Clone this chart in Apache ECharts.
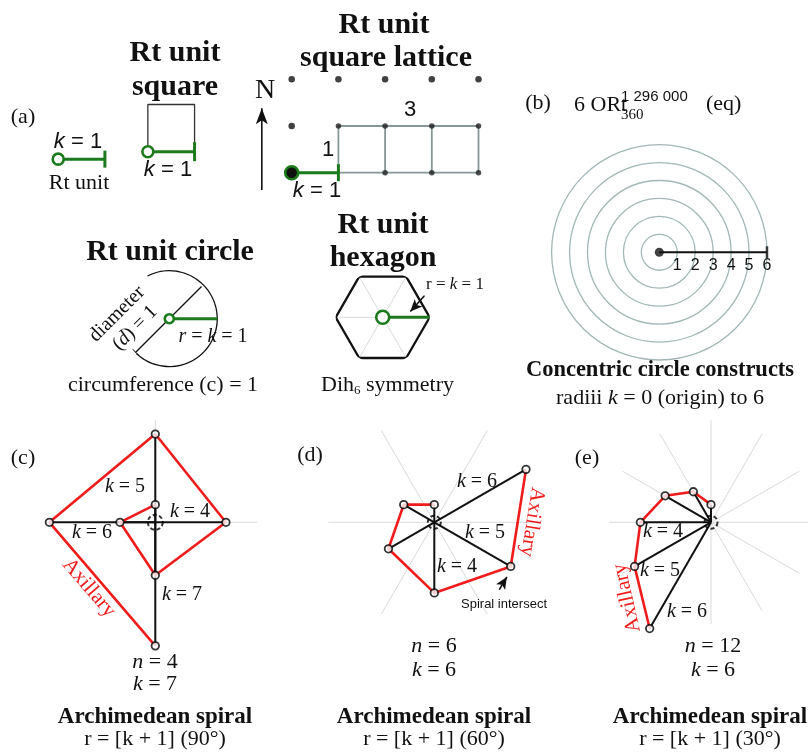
<!DOCTYPE html>
<html>
<head>
<meta charset="utf-8">
<script src="https://cdn.jsdelivr.net/npm/echarts@6/dist/echarts.min.js"></script>
<style>html,body{margin:0;background:#fff}#chart{width:808px;height:755px}</style>
</head>
<body>
<div id="chart"></div>
<script>
const SERIF = 'Liberation Serif', SANS = 'Liberation Sans';
const GREEN = '#1b7a1b', RED = '#f01c1c', INK = '#111', LATTICE = '#879797', RING = '#a3b7b7', SPOKE = '#dadada';

// (a) Rt unit pieces, measured in Rt units
const rtUnit = [[0, 0.29], [1, 0.29]];
const unitSquare = [[1.92, 0.45], [1.92, 1.46], [2.92, 1.46], [2.92, 0.45]];
const squareUnit = [[1.92, 0.45], [2.92, 0.45]];
const northArrow = [[4.36, -0.37], [4.36, 1.38]];
const latticeUnit = [[5, 0], [6, 0]];
const latticeRows = [0, 1];
const latticeCols = [6, 7, 8, 9];
const latticeFree = [[5, 2], [6, 2], [7, 2], [8, 2], [9, 2], [5, 1]];
const latticeNodes = [[6, 1], [7, 1], [8, 1], [9, 1], [7, 0], [8, 0], [9, 0]];

// unit circle: [radius, angle]
const circleArc = [250, 110];          // drawn part, open part (deg)
const circleDiameter = [[0.95, 45], [0.99, 225]];
const diameterTick = [[1.0, 219.5], [1.0, 230.5]];
const circleRadius = [[0, 0], [1, 0]];

// unit hexagon
const hexagon = [[1, 0], [1, 60], [1, 120], [1, 180], [1, 240], [1, 300], [1, 360]];
const hexRadius = [[0, 0], [1, 0]];
const hexPointer = [[1.066, 28.6], [0.6, 12]];

// (b) concentric circles
const ringMax = 6;
const ringRay = [[0, 0], [6, 0]];

// spirals: radius k and angle per step
const spiralC_r = [1, 2, 3, 4, 5, 6, 7];
const spiralC_a = [90, 180, 270, 0, 90, 180, 270];
const spiralD_r = [1, 2, 3, 4, 5, 6];
const spiralD_a = [90, 150, 210, 270, 330, 30];
const spiralE_r = [1, 2, 3, 4, 5, 6.95];
const spiralE_a = [90, 120, 150, 180, 210, 240];
const intersectPointer = [[5.3, 314], [5.15, 323]];

function rAxis(i, max, extra) {
  return Object.assign({polarIndex: i, type: 'value', min: 0, max: max,
    axisLine: {show: false}, axisTick: {show: false}, axisLabel: {show: false}, splitLine: {show: false}}, extra || {});
}
function aAxis(i, interval, splitColor) {
  return {polarIndex: i, type: 'value', min: 0, max: 360, startAngle: 0, clockwise: false, interval: interval || 90,
    axisLine: {show: false}, axisTick: {show: false}, axisLabel: {show: false},
    splitLine: {show: !!splitColor, lineStyle: {color: splitColor, width: 1}}};
}
function seg(coord, data, color, width, z) {
  return Object.assign({type: 'line', silent: true, symbol: 'none', z: z || 3,
    lineStyle: {color: color, width: width}, data: data}, coord);
}
function unitSeg(coord, pts, fill, ring, bar) {
  return Object.assign({type: 'line', silent: true, z: 6,
    lineStyle: {color: GREEN, width: 3},
    data: [
      {value: pts[0], symbol: 'circle', symbolSize: ring, itemStyle: {color: fill, borderColor: GREEN, borderWidth: 2.6}},
      {value: pts[1], symbol: 'rect', symbolSize: bar, itemStyle: {color: GREEN, borderWidth: 0}}
    ]}, coord);
}
function pointer(coord, pts, rot, size) {
  return Object.assign({type: 'line', silent: true, z: 7, lineStyle: {color: INK, width: 1.6},
    data: [{value: pts[0], symbol: 'none'},
           {value: pts[1], symbol: 'arrow', symbolSize: size || [8, 12], symbolRotate: rot, itemStyle: {color: INK}}]}, coord);
}
function spiral(dataPolar, radii, angles, curl) {
  const c = {coordinateSystem: 'polar', polarIndex: dataPolar};
  const pts = radii.map((r, i) => [r, angles[i]]);
  const out = radii.map((r, i) => seg(c, [[0, angles[i]], [r, angles[i]]], INK, 2, 3));
  out.push(seg(c, pts, RED, 2.6, 4));
  out.push(Object.assign({type: 'scatter', silent: true, z: 6, symbolSize: 7.5,
    itemStyle: {color: '#fff', borderColor: '#000', borderWidth: 1.8}, data: pts}, c));
  out.push(Object.assign({type: 'scatter', silent: true, z: 5, symbolSize: curl,
    itemStyle: {color: 'rgba(0,0,0,0)', borderColor: '#000', borderWidth: 2, borderType: [4, 2.5]}, data: [[0, 0]]}, c));
  return out;
}

function label(x, y, text, o) {
  o = o || {};
  const size = o.size || 22, fam = o.family || SERIF, col = o.color || INK, w = o.weight || 'normal';
  return {type: 'text', x: x, y: y, rotation: o.rot || 0, z: 100, silent: true,
    style: {text: text, fill: col, fontSize: size, fontFamily: fam, fontWeight: w,
      align: o.align || 'center', verticalAlign: 'middle',
      rich: {
        n: {fontSize: size, fontFamily: fam, fontWeight: w, fill: col},
        i: {fontSize: size, fontFamily: fam, fontWeight: w, fontStyle: 'italic', fill: col}
      }}};
}

const cart = {xAxisIndex: 0, yAxisIndex: 0};
const series = [];
latticeRows.forEach(y => series.push(seg(cart, [[6, y], [9, y]], LATTICE, 1.8, 2)));
latticeCols.forEach(x => series.push(seg(cart, [[x, 0], [x, 1]], LATTICE, 1.8, 2)));
series.push({type: 'scatter', silent: true, z: 4, symbolSize: 5.5, itemStyle: {color: '#222'}, data: latticeNodes});
series.push({type: 'scatter', silent: true, z: 4, symbolSize: 6.5, itemStyle: {color: '#111'}, data: latticeFree});
series.push(seg(cart, unitSquare, '#333', 1.3, 2));
series.push(unitSeg(cart, rtUnit, '#fff', 11, [3, 17]));
series.push(unitSeg(cart, squareUnit, '#fff', 11, [3, 19]));
series.push(unitSeg(cart, latticeUnit, '#111', 13, [3, 17]));
series.push(pointer(cart, northArrow, 0, [9, 16]));

// unit circle
const pc0 = {coordinateSystem: 'polar', polarIndex: 0};
series.push({type: 'pie', silent: true, center: [169.3, 318.7], radius: [47.3, 48.6], startAngle: 117, clockwise: true,
  label: {show: false}, labelLine: {show: false}, emphasis: {disabled: true}, itemStyle: {borderWidth: 0},
  data: [{value: circleArc[0], itemStyle: {color: INK}}, {value: circleArc[1], itemStyle: {color: 'rgba(0,0,0,0)'}}]});
series.push(seg(pc0, circleDiameter, INK, 1.3, 3));
series.push(seg(pc0, diameterTick, INK, 1.3, 3));
series.push(unitSeg(pc0, circleRadius, '#fff', 9, [3, 13]));

// hexagon
const pc1 = {coordinateSystem: 'polar', polarIndex: 1};
series.push(seg(pc1, hexagon, INK, 2.3, 3));
series.push(unitSeg(pc1, hexRadius, '#fff', 13, [4, 21]));
series.push(pointer(pc1, hexPointer, 136, [8, 12]));

// concentric
const pc2 = {coordinateSystem: 'polar', polarIndex: 2};
series.push(seg(pc2, ringRay, INK, 2, 4));
series.push(Object.assign({type: 'scatter', silent: true, z: 5, symbolSize: 9, itemStyle: {color: INK}, data: [ringRay[0]]}, pc2));
series.push(Object.assign({type: 'scatter', silent: true, z: 5, symbol: 'rect', symbolSize: [2.5, 12], itemStyle: {color: INK}, data: [ringRay[1]]}, pc2));

// spirals
spiral(4, spiralC_r, spiralC_a, 15).forEach(s => series.push(s));
spiral(5, spiralD_r, spiralD_a, 13).forEach(s => series.push(s));
spiral(7, spiralE_r, spiralE_a, 13).forEach(s => series.push(s));
series.push(pointer({coordinateSystem: 'polar', polarIndex: 5}, intersectPointer, -32, [8, 12]));

const graphic = [
  label(23, 117, '(a)'),
  label(78, 142, '{i|k} = 1', {family: SANS}),
  label(79, 183, 'Rt unit'),
  label(175, 53, 'Rt unit', {size: 30, weight: 'bold'}),
  label(175, 87, 'square', {size: 30, weight: 'bold'}),
  label(168, 170, '{i|k} = 1', {family: SANS}),
  label(265, 91, 'N', {size: 28}),
  label(384, 25, 'Rt unit', {size: 30, weight: 'bold'}),
  label(386, 58, 'square lattice', {size: 30, weight: 'bold'}),
  label(410, 110, '3', {family: SANS}),
  label(328, 150, '1', {family: SANS}),
  label(317, 191, '{i|k} = 1', {family: SANS}),

  label(170, 252, 'Rt unit circle', {size: 30, weight: 'bold'}),
  label(117, 314, 'diameter', {size: 20, rot: Math.PI / 4}),
  label(135, 328, '({i|d}) = 1', {size: 20, rot: Math.PI / 4}),
  label(213, 337, '{i|r} = {i|k} = 1', {size: 20}),
  label(163, 385, 'circumference (c) = 1'),

  label(383, 225, 'Rt unit', {size: 30, weight: 'bold'}),
  label(383, 258, 'hexagon', {size: 30, weight: 'bold'}),
  label(455, 285, 'r = {i|k} = 1', {size: 17}),
  label(321, 385, 'Dih', {align: 'left'}),
  label(354, 391, '6', {size: 13, align: 'left'}),
  label(366, 385, 'symmetry', {align: 'left'}),

  label(538, 103, '(b)'),
  label(574, 105, '6 ORt', {align: 'left'}),
  label(621, 97, '1 296 000', {size: 15, family: SANS, align: 'left'}),
  label(621, 115, '360', {size: 15, align: 'left'}),
  label(706, 104, '(eq)', {align: 'left'}),
  label(660, 370, 'Concentric circle constructs', {size: 22.5, weight: 'bold'}),
  label(660, 398, 'radiii {i|k} = 0 (origin) to 6'),

  label(23, 458, '(c)'),
  label(125, 487, '{i|k} = 5', {size: 20}),
  label(190, 512, '{i|k} = 4', {size: 20}),
  label(92, 533, '{i|k} = 6', {size: 20}),
  label(182, 595, '{i|k} = 7', {size: 20}),
  label(89, 588, 'Axillary', {size: 21, color: RED, rot: -0.862}),
  label(155, 662, '{i|n} = 4'),
  label(155, 684, '{i|k} = 7'),
  label(155, 717, 'Archimedean spiral', {size: 23, weight: 'bold'}),
  label(155, 739, 'r = [k + 1] (90°)'),

  label(310, 455, '(d)'),
  label(477, 482, '{i|k} = 6', {size: 20}),
  label(485, 533, '{i|k} = 5', {size: 20}),
  label(457, 567, '{i|k} = 4', {size: 20}),
  label(532, 522, 'Axillary', {size: 21, color: RED, rot: -1.733}),
  label(504, 604, 'Spiral intersect', {size: 13, family: SANS}),
  label(434, 646, '{i|n} = 6'),
  label(434, 670, '{i|k} = 6'),
  label(434, 717, 'Archimedean spiral', {size: 23, weight: 'bold'}),
  label(434, 739, 'r = [k + 1] (60°)'),

  label(587, 458, '(e)'),
  label(663, 532, '{i|k} = 4', {size: 20}),
  label(660, 571, '{i|k} = 5', {size: 20}),
  label(687, 612, '{i|k} = 6', {size: 20}),
  label(627, 598, 'Axillary', {size: 21, color: RED, rot: 1.794}),
  label(713, 646, '{i|n} = 12'),
  label(713, 670, '{i|k} = 6'),
  label(710, 717, 'Archimedean spiral', {size: 23, weight: 'bold'}),
  label(710, 739, 'r = [k + 1] (30°)')
];

const chart = echarts.init(document.getElementById('chart'));
chart.setOption({
  animation: false,
  backgroundColor: '#fff',
  grid: {left: 11.5, top: 32.6, width: 513.7, height: 186.8},
  xAxis: {type: 'value', min: -1, max: 10, show: false},
  yAxis: {type: 'value', min: -1, max: 3, show: false},
  polar: [
    {center: [169.3, 318.7], radius: 48},
    {center: [382.7, 317.3], radius: 47},
    {center: [659.3, 252.3], radius: 107.7},
    {center: [155.3, 522.3], radius: 102},
    {center: [155.3, 522.3], radius: 123.55},
    {center: [434.3, 522.3], radius: 105.9},
    {center: [711, 522.3], radius: 102},
    {center: [711, 522.3], radius: 123.55}
  ],
  radiusAxis: [
    rAxis(0, 1), rAxis(1, 1),
    rAxis(2, ringMax, {interval: 1,
      axisLabel: {show: true, color: INK, fontFamily: SANS, fontSize: 16, margin: -5, verticalAlign: 'top',
        formatter: v => v ? String(v) : ''},
      splitLine: {show: true, lineStyle: {color: RING, width: 1.3}}}),
    rAxis(3, 1), rAxis(4, 7), rAxis(5, 6), rAxis(6, 1), rAxis(7, 7)
  ],
  angleAxis: [
    aAxis(0, 90), aAxis(1, 60, SPOKE), aAxis(2, 90), aAxis(3, 90, SPOKE), aAxis(4, 90),
    aAxis(5, 60, SPOKE), aAxis(6, 30, SPOKE), aAxis(7, 90)
  ],
  series: series,
  graphic: graphic
});
</script>
</body>
</html>
